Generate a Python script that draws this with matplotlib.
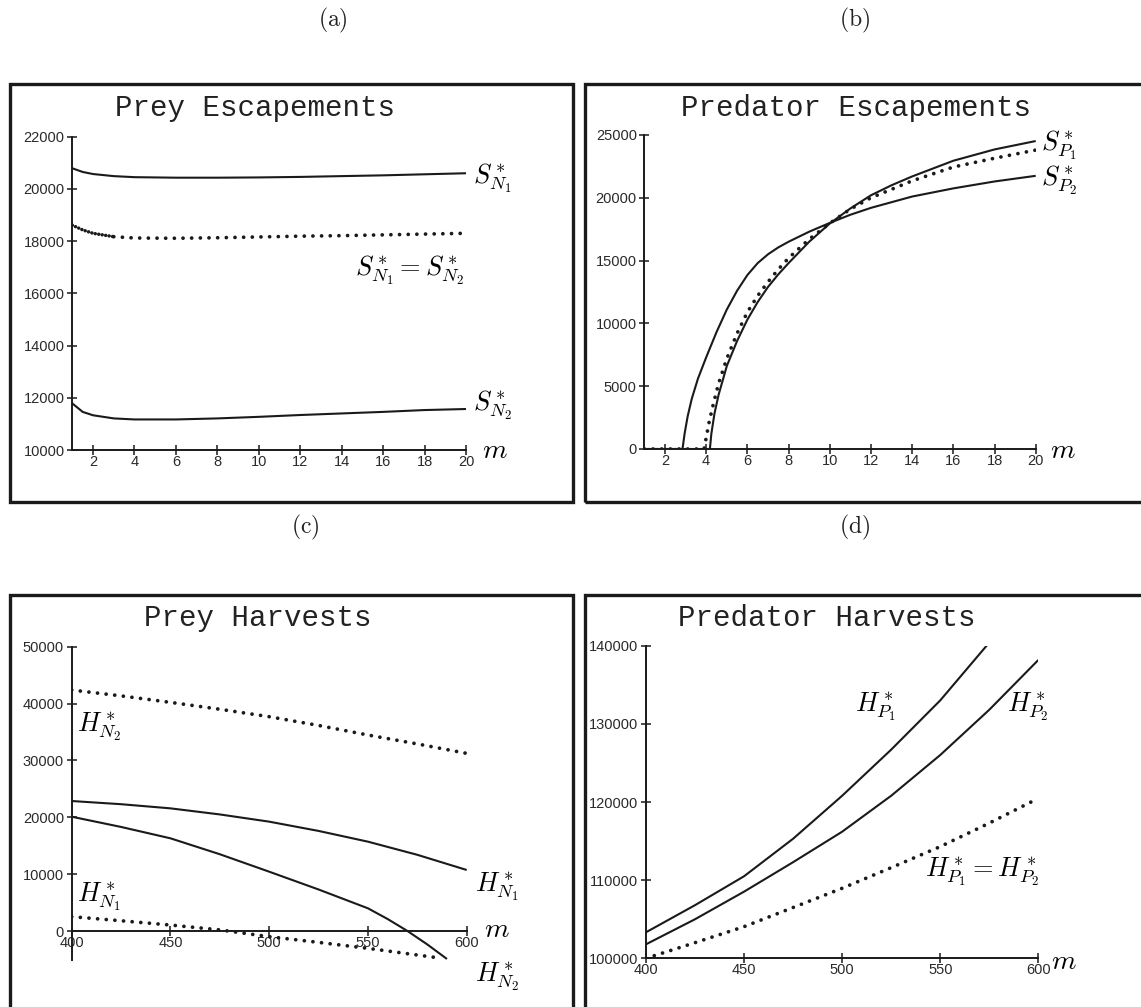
import matplotlib
matplotlib.use("Agg")
import matplotlib.pyplot as plt
from matplotlib.patches import Rectangle

plt.rcParams['mathtext.fontset'] = 'cm'

W, H = 1141, 1007

# ---------------- data ----------------
# (a) Prey Escapements
m_a = [1, 1.5, 2, 3, 4, 6, 8, 10, 12, 14, 16, 18, 20]
S_N1 = [20790, 20650, 20570, 20490, 20450, 20430, 20430, 20440, 20460, 20490, 20520, 20560, 20600]
S_N_eq = [18610, 18430, 18300, 18170, 18120, 18110, 18130, 18160, 18190, 18210, 18240, 18270, 18300]
S_N2 = [11785, 11460, 11330, 11210, 11170, 11170, 11210, 11270, 11340, 11400, 11460, 11530, 11570]

# (b) Predator Escapements
m_b_P2 = [1, 2.85, 2.95, 3.1, 3.3, 3.6, 4.0, 4.5, 5, 5.5, 6, 6.5, 7, 7.5, 8, 9, 10, 11, 12, 14, 16, 18, 20]
S_P2 = [0, 0, 1200, 2600, 4000, 5600, 7300, 9300, 11100, 12600, 13850, 14800, 15500, 16050, 16500,
        17300, 18000, 18650, 19200, 20100, 20750, 21300, 21750]
m_b_P1 = [1, 4.18, 4.25, 4.4, 4.6, 5, 5.5, 6, 6.5, 7, 7.5, 8, 9, 10, 11, 12, 13, 14, 16, 18, 20]
S_P1 = [0, 0, 1200, 2800, 4300, 6600, 8600, 10300, 11700, 12900, 13900, 14800, 16500, 17950,
        19150, 20200, 21000, 21700, 22950, 23850, 24520]
m_b_eq = [1, 3.9, 4.0, 4.15, 4.35, 4.6, 5, 5.5, 6, 6.5, 7, 7.5, 8, 9, 10, 11, 12, 14, 16, 18, 20]
S_P_eq = [0, 0, 900, 2200, 3600, 5200, 7200, 9200, 10900, 12200, 13300, 14300, 15200, 16700, 17970,
          19100, 20000, 21350, 22450, 23150, 23800]

# (c) Prey Harvests
m_c = [400, 425, 450, 475, 500, 525, 550, 575, 600]
H_N2_dot = [42380, 41350, 40210, 39000, 37690, 36150, 34470, 32900, 31240]
H_N1_sol = [22860, 22300, 21570, 20500, 19230, 17600, 15710, 13400, 10730]
m_c2 = [400, 425, 450, 475, 500, 525, 550, 560, 570, 580, 590]
H_N2_sol = [20100, 18300, 16300, 13500, 10430, 7300, 3990, 2100, 0, -2350, -4920]
m_c3 = [400, 425, 450, 475, 500, 525, 550, 585]
H_N1_dot = [2520, 1800, 1050, 200, -1000, -2000, -3050, -4690]

# (d) Predator Harvests
m_d1 = [400, 425, 450, 475, 500, 525, 550, 575]
H_P1 = [103330, 106800, 110500, 115300, 120800, 126700, 133000, 140400]
m_d = [400, 425, 450, 475, 500, 525, 550, 575, 600]
H_P2 = [101790, 105000, 108530, 112300, 116200, 120800, 126010, 131800, 138170]
H_P_eq = [100000, 102000, 104050, 106500, 108960, 111600, 114290, 117300, 120470]

# ---------------- figure ----------------
fig = plt.figure(figsize=(W / 100, H / 100), dpi=100)


def rect(x0, x1, ytop, ybot):
    return [x0 / W, 1 - ybot / H, (x1 - x0) / W, (ybot - ytop) / H]


def ftext(x, y, s, **kw):
    fig.text(x / W, 1 - y / H, s, **kw)


# panel frames
for (x0, y0, x1, y1) in [(10, 84, 573, 502), (585, 84, 1150, 502),
                         (10, 595, 573, 1015), (585, 595, 1150, 1015)]:
    fig.patches.append(Rectangle((x0 / W, 1 - y1 / H), (x1 - x0) / W, (y1 - y0) / H,
                                 transform=fig.transFigure, fill=False,
                                 lw=2.4, ec='#1a1a1a'))

# panel letters
for (x, y, s) in [(333, 20, '(a)'), (855, 20, '(b)'), (305, 527, '(c)'), (855, 527, '(d)')]:
    ftext(x, y, r'$\mathrm{' + s + '}$', ha='center', va='center', fontsize=17, color='#222222')

# titles
for (x, y, s) in [(255, 108, 'Prey Escapements'), (856, 108, 'Predator Escapements'),
                  (258, 618, 'Prey Harvests'), (827, 618, 'Predator Harvests')]:
    ftext(x, y, s, ha='center', va='center', fontsize=21, family='Liberation Mono', color='#222222')

SOL = dict(color='#1a1a1a', lw=1.5, solid_capstyle='butt', solid_joinstyle='round')
DOT = dict(color='#1a1a1a', lw=2.7, linestyle=(0, (0.01, 2.3)), dash_capstyle='round')
DOT_DENSE = dict(color='#1a1a1a', lw=2.5, linestyle=(0, (0.01, 1.0)), dash_capstyle='round')


def style(ax):
    for s in ['top', 'right']:
        ax.spines[s].set_visible(False)
    for s in ['left', 'bottom']:
        ax.spines[s].set_linewidth(1.4)
        ax.spines[s].set_color('#1a1a1a')
    ax.patch.set_visible(False)
    ax.tick_params(direction='inout', length=7, width=1.1, color='#1a1a1a',
                   labelsize=10.5, labelcolor='#2a2a2a')
    ax.tick_params(axis='x', pad=0)
    ax.tick_params(axis='y', pad=2)
    for lab in ax.get_xticklabels() + ax.get_yticklabels():
        lab.set_family('Liberation Sans')


# (a)
ax = fig.add_axes(rect(72.3, 466, 136.7, 450))
ax.plot(m_a, S_N1, **SOL)
ax.plot(m_a[:4], S_N_eq[:4], **DOT_DENSE)
ax.plot(m_a[3:], S_N_eq[3:], **DOT)
ax.plot(m_a, S_N2, **SOL)
ax.set_xlim(1, 20)
ax.set_ylim(10000, 22000)
ax.set_xticks(range(2, 21, 2))
ax.set_yticks(range(10000, 22001, 2000))
style(ax)
ftext(473, 178, r'$S^*_{N_1}$', ha='left', va='center', fontsize=19)
ftext(355, 270, r'$S^*_{N_1}=S^*_{N_2}$', ha='left', va='center', fontsize=19)
ftext(473, 405, r'$S^*_{N_2}$', ha='left', va='center', fontsize=19)
ftext(482, 450, r'$m$', ha='left', va='center', fontsize=20)

# (b)
ax = fig.add_axes(rect(644.4, 1035.7, 135, 449))
ax.plot(m_b_P2, S_P2, **SOL)
ax.plot(m_b_P1, S_P1, **SOL)
ax.plot(m_b_eq, S_P_eq, **DOT)
ax.set_xlim(1, 20)
ax.set_ylim(0, 25000)
ax.set_xticks(range(2, 21, 2))
ax.set_yticks(range(0, 25001, 5000))
style(ax)
ftext(1041, 145, r'$S^*_{P_1}$', ha='left', va='center', fontsize=19)
ftext(1041, 180, r'$S^*_{P_2}$', ha='left', va='center', fontsize=19)
ftext(1050, 450, r'$m$', ha='left', va='center', fontsize=20)

# (c)
ax = fig.add_axes(rect(71.7, 466.7, 646.7, 960))
ax.plot(m_c, H_N2_dot, **DOT)
ax.plot(m_c, H_N1_sol, **SOL)
ax.plot(m_c2, H_N2_sol, **SOL)
ax.plot(m_c3, H_N1_dot, **DOT)
ax.set_xlim(400, 600)
ax.set_ylim(-5100, 50000)
ax.spines['bottom'].set_position(('data', 0))
ax.set_xticks(range(400, 601, 50))
ax.set_yticks(range(0, 50001, 10000))
style(ax)
ftext(77, 727, r'$H^*_{N_2}$', ha='left', va='center', fontsize=19)
ftext(77, 897, r'$H^*_{N_1}$', ha='left', va='center', fontsize=19)
ftext(475, 887, r'$H^*_{N_1}$', ha='left', va='center', fontsize=19)
ftext(475, 977, r'$H^*_{N_2}$', ha='left', va='center', fontsize=19)
ftext(484, 929, r'$m$', ha='left', va='center', fontsize=20)

# (d)
ax = fig.add_axes(rect(646, 1038.3, 645.7, 958.3))
ax.plot(m_d1, H_P1, **SOL)
ax.plot(m_d, H_P2, **SOL)
ax.plot(m_d, H_P_eq, **DOT)
ax.set_xlim(400, 600)
ax.set_ylim(100000, 140000)
ax.set_xticks(range(400, 601, 50))
ax.set_yticks(range(100000, 140001, 10000))
style(ax)
ftext(855, 707, r'$H^*_{P_1}$', ha='left', va='center', fontsize=19)
ftext(1007, 707, r'$H^*_{P_2}$', ha='left', va='center', fontsize=19)
ftext(925, 872, r'$H^*_{P_1}=H^*_{P_2}$', ha='left', va='center', fontsize=19)
ftext(1051, 961, r'$m$', ha='left', va='center', fontsize=20)

fig.savefig('out.png', dpi=100)
